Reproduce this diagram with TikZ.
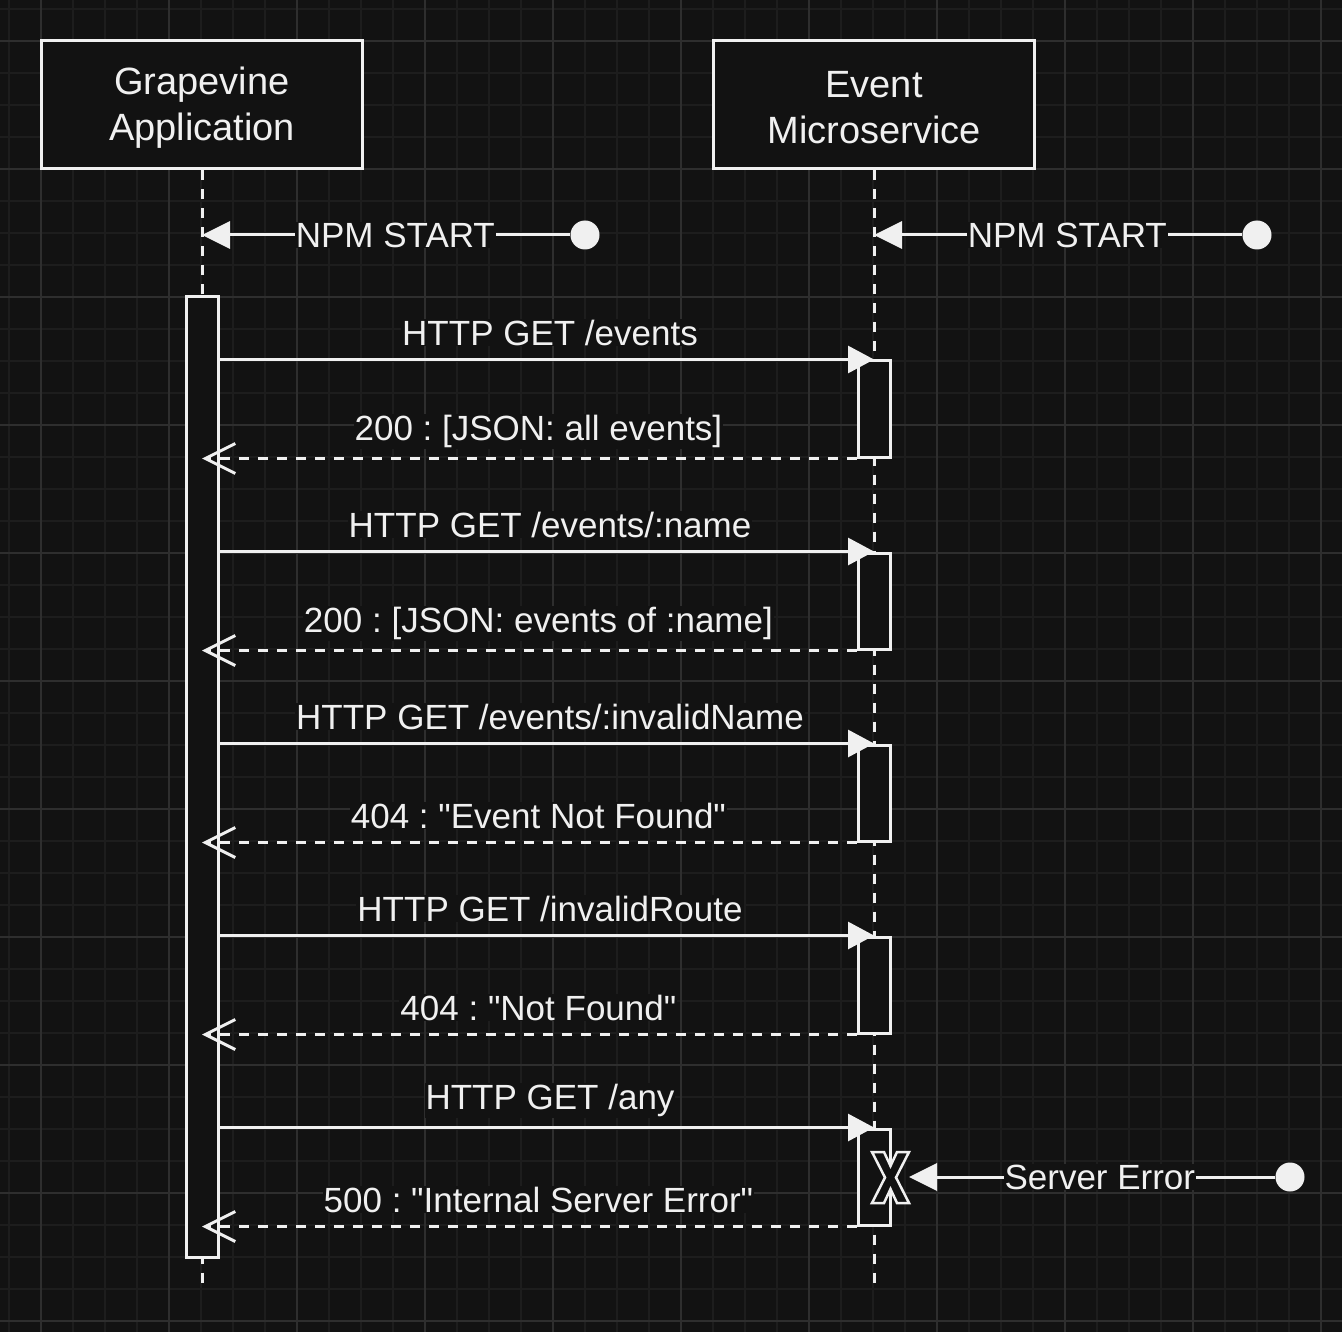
\documentclass[tikz,border=0pt]{standalone}
\usepackage{fontspec}
\setmainfont{Liberation Sans}[Ligatures=TeXOff]
\usetikzlibrary{arrows.meta}
\definecolor{bgc}{HTML}{121212}
\definecolor{gridminor}{HTML}{1D1D1D}
\definecolor{gridmajor}{HTML}{2E2E2E}
\definecolor{fg}{HTML}{F0F0F0}
\frenchspacing
\tikzset{
  lbl/.style={font=\fontsize{35}{46}\selectfont, text=fg, fill=bgc, inner sep=1pt},
  actor/.style={draw=fg, line width=3pt, fill=bgc, minimum width=321pt, minimum height=128pt, inner sep=0pt},
  actortext/.style={align=center, font=\fontsize{38}{46}\selectfont, text=fg, inner sep=0pt},
  lifeline/.style={draw=fg, line width=3pt, dash pattern=on 10pt off 9pt},
  actbar/.style={draw=fg, line width=3pt, fill=bgc, minimum width=32pt, inner sep=0pt},
  msg/.style={draw=fg, line width=3pt, -{Triangle[length=26pt,width=27pt]}},
  ret/.style={draw=fg, line width=3pt, dash pattern=on 10pt off 9pt, -{Straight Barb[length=30pt,width=30pt]}},
  startmsg/.style={draw=fg, line width=3pt, -{Triangle[length=28pt,width=27pt]}},
  dot/.style={circle, fill=fg, minimum size=29pt, inner sep=0pt},
}
\begin{document}
\begin{tikzpicture}[x=1pt,y=-1pt]
\useasboundingbox (0,0) rectangle (1342,1332);
\fill[bgc] (0,0) rectangle (1342,1332);
% grid
\foreach \k in {0,...,41} {
  \draw[gridminor, line width=2pt] ({9+32*\k},0) -- ({9+32*\k},1332);
  \draw[gridminor, line width=2pt] (0,{9+32*\k}) -- (1342,{9+32*\k});
}
\foreach \k in {0,...,10} {
  \draw[gridmajor, line width=2pt] ({41+128*\k},0) -- ({41+128*\k},1332);
  \draw[gridmajor, line width=2pt] (0,{41+128*\k}) -- (1342,{41+128*\k});
}
% actors
\node[actor] (app) at (202,105) {};
\node[actortext] (apptext) at ([yshift=-3pt]app.center) {Grapevine\\Application};
\node[actor] (ems) at (874,105) {};
\node[actortext] (emstext) at ([yshift=-3pt]ems.center) {Event\\Microservice};
\coordinate (append) at (202,1290);
\coordinate (emsend) at (874,1290);
\draw[lifeline] (app.south) -- (append);
\draw[lifeline] (ems.south) -- (emsend);
% NPM start
\coordinate (appstart) at (202,235);
\coordinate (emsstart) at (874,235);
\node[dot] (d1) at (585,235) {};
\node[dot] (d2) at (1257,235) {};
\draw[startmsg] (d1) -- node[lbl, pos=0.475] {NPM START} (appstart);
\draw[startmsg] (d2) -- node[lbl, pos=0.475] {NPM START} (emsstart);
% activation bars
\node[actbar, minimum height=960pt] (abar) at (202,777) {};
\node[actbar, minimum height=96pt] (eb1) at (874,409) {};
\node[actbar, minimum height=96pt] (eb2) at (874,601) {};
\node[actbar, minimum height=96pt] (eb3) at (874,793) {};
\node[actbar, minimum height=96pt] (eb4) at (874,985) {};
\node[actbar, minimum height=96pt] (eb5) at (874,1177) {};
% messages
\draw[msg] (abar.east |- eb1.north) -- node[lbl, pos=0.505, yshift=27pt] {HTTP GET /events} (eb1.north);
\draw[ret] (eb1.south west) -- node[lbl, pos=0.486, yshift=27pt] {200 : [JSON: all events]} (abar.center |- eb1.south);
\draw[msg] (abar.east |- eb2.north) -- node[lbl, pos=0.505, yshift=27pt] {HTTP GET /events/:name} (eb2.north);
\draw[ret] (eb2.south west) -- node[lbl, pos=0.486, yshift=27pt] {200 : [JSON: events of :name]} (abar.center |- eb2.south);
\draw[msg] (abar.east |- eb3.north) -- node[lbl, pos=0.505, yshift=27pt] {HTTP GET /events/:invalidName} (eb3.north);
\draw[ret] (eb3.south west) -- node[lbl, pos=0.486, yshift=27pt] {404 : "Event Not Found"} (abar.center |- eb3.south);
\draw[msg] (abar.east |- eb4.north) -- node[lbl, pos=0.505, yshift=27pt] {HTTP GET /invalidRoute} (eb4.north);
\draw[ret] (eb4.south west) -- node[lbl, pos=0.486, yshift=27pt] {404 : "Not Found"} (abar.center |- eb4.south);
\draw[msg] (abar.east |- eb5.north) -- node[lbl, pos=0.505, yshift=27pt] {HTTP GET /any} (eb5.north);
\draw[ret] (eb5.south west) -- node[lbl, pos=0.486, yshift=27pt] {500 : "Internal Server Error"} (abar.center |- eb5.south);
% destroy mark
\draw[fg, line width=2.5pt, fill=bgc, line join=miter]
  (872,1152) -- (884,1152) -- (890.5,1166) -- (897,1152) -- (909,1152) -- (896,1177.5)
  -- (909,1203) -- (897,1203) -- (890.5,1189) -- (884,1203) -- (872,1203) -- (885,1177.5) -- cycle;
\coordinate (xmark) at (909,1177);
\node[dot] (d3) at (1290,1177) {};
\draw[startmsg] (d3) -- node[lbl, pos=0.479] {Server Error} (xmark);
\end{tikzpicture}
\end{document}
